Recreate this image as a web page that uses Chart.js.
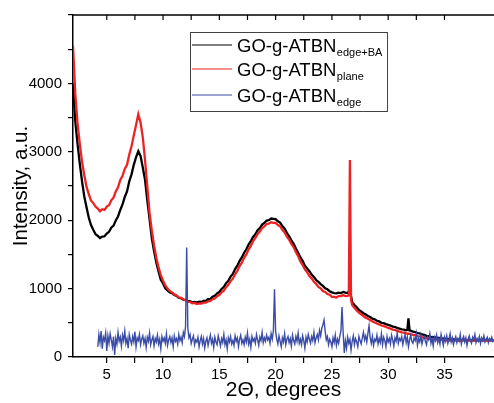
<!DOCTYPE html>
<html>
<head>
<meta charset="utf-8">
<script src="https://cdn.jsdelivr.net/npm/chart.js@4.4.1/dist/chart.umd.min.js"></script>
<style>
  body { margin: 0; background: #fff; }
  #wrap { width: 494px; height: 403px; }
</style>
</head>
<body>
<div id="wrap"><canvas id="xrdChart" width="494" height="403"></canvas></div>
<script>
// 2-theta grids: black and red start at 2.0 (step 0.2), blue at 4.2 (step 0.1)
const gridStart = 2.0
const gridStep = 0.2
const blueStart = 4.2
const blueStep = 0.1

const blackIntensity = [
  4000, 3450, 3120, 2830, 2570, 2350, 2190, 2040, 1930, 1860,
  1795, 1770, 1740, 1760, 1765, 1805, 1830, 1890, 1920, 1995,
  2055, 2150, 2230, 2340, 2420, 2570, 2670, 2810, 2920, 3010,
  2940, 2770, 2590, 2290, 2020, 1740, 1550, 1380, 1250, 1130,
  1075, 1005, 975, 945, 935, 905, 895, 865, 860, 840,
  835, 815, 815, 800, 805, 795, 810, 805, 820, 820,
  845, 850, 880, 895, 930, 950, 995, 1025, 1080, 1115,
  1175, 1215, 1285, 1335, 1405, 1455, 1525, 1575, 1645, 1695,
  1755, 1795, 1855, 1885, 1935, 1960, 1995, 2000, 2025, 2020,
  2015, 1985, 1965, 1915, 1875, 1815, 1765, 1705, 1655, 1585,
  1525, 1455, 1405, 1335, 1295, 1255, 1205, 1170, 1125, 1100,
  1065, 1040, 1005, 990, 960, 945, 935, 930, 940, 935,
  950, 940, 935, 980, 800, 760, 725, 690, 665, 640,
  620, 600, 585, 560, 550, 530, 520, 500, 495, 480,
  470, 460, 445, 440, 425, 415, 405, 400, 390, 565,
  385, 370, 365, 350, 345, 330, 325, 310, 305, 295,
  290, 285, 280, 275, 270, 268, 265, 262, 260, 258,
  255, 255, 252, 250, 250, 248, 250, 245, 248, 250,
  245, 250, 248, 245, 250, 248, 250, 245
]
const blackExtra = [[31.7, 395], [31.9, 388]]

const redIntensity = [
  4550, 3850, 3420, 3120, 2860, 2660, 2490, 2380, 2290, 2250,
  2200, 2170, 2130, 2160, 2150, 2200, 2220, 2290, 2330, 2420,
  2480, 2590, 2650, 2750, 2810, 2960, 3080, 3240, 3390, 3550,
  3430, 3210, 2880, 2490, 2110, 1850, 1630, 1450, 1310, 1195,
  1115, 1045, 1000, 965, 945, 915, 900, 870, 865, 840,
  830, 810, 805, 785, 790, 775, 785, 780, 795, 795,
  815, 820, 845, 855, 890, 905, 945, 970, 1020, 1055,
  1110, 1145, 1210, 1260, 1330, 1380, 1450, 1500, 1575, 1625,
  1695, 1740, 1800, 1835, 1885, 1910, 1945, 1950, 1970, 1960,
  1960, 1930, 1910, 1860, 1820, 1760, 1715, 1655, 1605, 1535,
  1475, 1395, 1345, 1280, 1240, 1185, 1150, 1100, 1070, 1025,
  1005, 965, 950, 920, 910, 880, 880, 870, 890, 890,
  905, 890, 895, 2880, 760, 720, 680, 650, 625, 600,
  575, 560, 540, 520, 505, 490, 475, 460, 450, 440,
  425, 415, 400, 395, 380, 370, 360, 355, 345, 340,
  335, 325, 320, 305, 300, 290, 285, 275, 270, 265,
  260, 258, 255, 250, 250, 245, 245, 240, 245, 240,
  240, 245, 240, 238, 240, 245, 240, 242, 240, 245,
  240, 245, 240, 245, 240, 245, 240, 245
]
const redExtra = [[26.5, 900], [26.7, 840]]

const blueIntensity = [
  150, 330, 210, 380, 120, 290, 240, 350, 90, 310,
  200, 340, 250, 150, 300, 30, 270, 190, 360, 230,
  290, 160, 320, 240, 380, 200, 270, 130, 330, 250,
  190, 300, 220, 370, 150, 280, 240, 330, 180, 260,
  310, 200, 270, 140, 290, 230, 350, 180, 250, 300,
  160, 270, 220, 320, 190, 260, 120, 300, 230, 280,
  200, 340, 170, 250, 300, 210, 280, 150, 310, 230,
  270, 190, 330, 240, 290, 210, 360, 300, 450, 1600,
  420, 280, 330, 200, 260, 310, 180, 250, 220, 290,
  150, 240, 300, 190, 270, 130, 230, 280, 170, 250,
  320, 200, 260, 140, 290, 220, 180, 310, 240, 160,
  270, 210, 330, 180, 250, 120, 280, 220, 300, 190,
  240, 170, 310, 230, 280, 150, 260, 320, 200, 250,
  180, 290, 220, 350, 190, 260, 140, 300, 230, 270,
  200, 330, 250, 170, 290, 240, 360, 210, 280, 230,
  320, 250, 290, 200, 340, 260, 380, 990, 370, 260,
  190, 310, 230, 150, 280, 220, 340, 180, 260, 300,
  210, 270, 160, 320, 240, 190, 300, 230, 350, 200,
  260, 180, 310, 240, 130, 290, 220, 330, 260, 200,
  300, 240, 360, 210, 280, 330, 250, 390, 310, 420,
  470, 540, 380, 250, 300, 180, 260, 220, 150, 280,
  210, 320, 170, 260, 200, 300, 380, 730, 350, 60,
  240, 130, 290, 200, 260, 100, 230, 310, 180, 270,
  220, 150, 300, 240, 190, 280, 360, 250, 310, 220,
  350, 460, 280, 200, 300, 170, 260, 230, 320, 190,
  270, 210, 340, 180, 290, 240, 150, 300, 220, 270,
  190, 320, 250, 160, 280, 230, 350, 200, 270, 240,
  300, 180, 260, 330, 210, 290, 150, 250, 320, 230,
  200, 280, 240, 340, 170, 270, 220, 310, 190, 260,
  300, 230, 180, 290, 250, 340, 200, 270, 160, 290,
  240, 320, 210, 270, 190, 330, 250, 170, 290, 230,
  310, 200, 260, 340, 220, 280, 180, 250, 300, 210,
  270, 230, 330, 190, 260, 300, 220, 280, 170, 260,
  310, 240, 200, 290, 250, 330, 210, 270, 230, 300,
  200, 280, 240, 310, 220, 260, 290, 210, 270, 240,
  290, 230, 260
]

const seriesNames = ['GO-g-ATBN', 'GO-g-ATBN', 'GO-g-ATBN']
const seriesSubs = ['edge+BA', 'plane', 'edge']
const seriesColors = ['#000000', '#ee2222', '#3a4ca6']

function toPoints(start, step, values, extra) {
  const pts = values.map((v, i) => ({ x: +(start + i * step).toFixed(2), y: v }))
  extra.forEach(p => pts.push({ x: p[0], y: p[1] }))
  return pts.sort((a, b) => a.x - b.x)
}

const fontFamily = "'Liberation Sans', Arial, sans-serif"

// top frame line with inward ticks
const frameTicks = {
  id: 'frameTicks',
  afterDatasetsDraw(chart) {
    const { ctx, chartArea, scales } = chart
    ctx.save()
    ctx.strokeStyle = '#000'
    ctx.lineWidth = 1.5
    ctx.beginPath()
    ctx.moveTo(chartArea.left, chartArea.top)
    ctx.lineTo(chartArea.right, chartArea.top)
    ctx.stroke()
    ctx.lineWidth = 1.2
    scales.x.ticks.forEach(t => {
      const px = scales.x.getPixelForValue(t.value)
      ctx.beginPath()
      ctx.moveTo(px, chartArea.top)
      ctx.lineTo(px, chartArea.top + 5)
      ctx.stroke()
    })
    ctx.restore()
  }
}

// boxed legend with subscripts
const subLegend = {
  id: 'subLegend',
  afterDraw(chart) {
    const ctx = chart.ctx
    const box = { x: 190, y: 32, w: 197, h: 79 }
    const rows = [45, 69, 95]
    ctx.save()
    ctx.fillStyle = '#fff'
    ctx.fillRect(box.x, box.y, box.w, box.h)
    ctx.strokeStyle = '#444'
    ctx.lineWidth = 1
    ctx.strokeRect(box.x + 0.5, box.y + 0.5, box.w, box.h)
    rows.forEach((ry, i) => {
      ctx.strokeStyle = seriesColors[i]
      ctx.lineWidth = 1.2
      ctx.beginPath()
      ctx.moveTo(192, ry)
      ctx.lineTo(232, ry)
      ctx.stroke()
      ctx.fillStyle = '#000'
      ctx.textBaseline = 'alphabetic'
      ctx.font = '18.5px ' + fontFamily
      ctx.fillText(seriesNames[i], 237, ry + 6.5)
      const w = ctx.measureText(seriesNames[i]).width
      ctx.font = '11px ' + fontFamily
      ctx.fillText(seriesSubs[i], 237 + w + 0.5, ry + 11)
    })
    ctx.restore()
  }
}

const ctx = document.getElementById('xrdChart').getContext('2d')
const xrdChart = new Chart(ctx, {
  type: 'line',
  data: {
    datasets: [{
      label: 'GO-g-ATBN edge+BA',
      data: toPoints(gridStart, gridStep, blackIntensity, blackExtra),
      borderColor: seriesColors[0],
      borderWidth: 2.3,
      order: 3
    }, {
      label: 'GO-g-ATBN plane',
      data: toPoints(gridStart, gridStep, redIntensity, redExtra),
      borderColor: seriesColors[1],
      borderWidth: 2.3,
      order: 2
    }, {
      label: 'GO-g-ATBN edge',
      data: toPoints(blueStart, blueStep, blueIntensity, []),
      borderColor: seriesColors[2],
      borderWidth: 1.4,
      order: 1
    }]
  },
  options: {
    responsive: false,
    animation: false,
    devicePixelRatio: 1,
    elements: { point: { radius: 0 }, line: { tension: 0 } },
    layout: { padding: { top: 13, right: 0, bottom: 0, left: 0 } },
    plugins: { legend: { display: false }, tooltip: { enabled: false } },
    scales: {
      x: {
        type: 'linear',
        min: 2,
        max: 39.4,
        border: { display: true, color: '#000', width: 1.5 },
        grid: { drawOnChartArea: false, drawTicks: true, tickLength: 6, color: '#000', lineWidth: 1.2 },
        ticks: {
          stepSize: 2.5,
          autoSkip: false,
          maxRotation: 0,
          padding: 3,
          color: '#000',
          font: { family: fontFamily, size: 15 },
          callback: v => (v % 5 === 0 ? v : '')
        },
        afterBuildTicks: s => { s.ticks = s.ticks.filter(t => t.value % 2.5 === 0) },
        afterFit: s => { s.height = 46 },
        title: {
          display: true,
          text: '2Θ, degrees',
          color: '#000',
          font: { family: fontFamily, size: 21 },
          padding: { top: 0, bottom: 0 }
        }
      },
      y: {
        min: 0,
        max: 5000,
        border: { display: true, color: '#000', width: 1.5 },
        grid: { drawOnChartArea: false, drawTicks: true, tickLength: 5, color: '#000', lineWidth: 1.2 },
        ticks: {
          stepSize: 500,
          autoSkip: false,
          padding: 6,
          color: '#000',
          font: { family: fontFamily, size: 15 },
          callback: v => (v % 1000 === 0 && v < 5000 ? v : '')
        },
        afterFit: s => { s.width = 73 },
        title: {
          display: true,
          text: 'Intensity, a.u.',
          color: '#000',
          font: { family: fontFamily, size: 20.5 },
          padding: { top: 9, bottom: 0 }
        }
      }
    }
  },
  plugins: [frameTicks, subLegend]
})
</script>
</body>
</html>
